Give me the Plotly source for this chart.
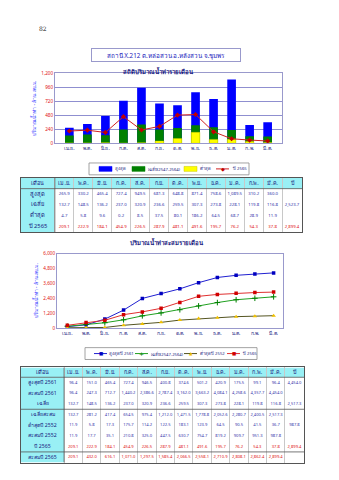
import plotly.graph_objects as go

# ---------------- data ----------------
months = ["เม.ย.", "พ.ค.", "มิ.ย.", "ก.ค.", "ส.ค.", "ก.ย.", "ต.ค.", "พ.ย.", "ธ.ค.", "ม.ค.", "ก.พ.", "มี.ค."]

max_month = [265.9, 330.2, 465.4, 727.4, 949.5, 681.3, 648.8, 871.4, 758.6, 1089.5, 310.2, 360.0]
avg_month = [132.7, 148.5, 136.2, 237.0, 320.9, 236.6, 259.5, 307.3, 273.8, 228.1, 119.8, 116.8]
min_month = [4.7, 5.8, 9.6, 0.2, 8.5, 37.5, 80.1, 186.2, 64.5, 68.7, 28.9, 11.9]
y2565_month = [209.1, 222.9, 184.1, 454.9, 226.5, 287.9, 481.1, 491.6, 195.7, 76.2, 54.3, 37.8]
avg_annual = 2523.7
y2565_annual = 2899.4

max2561_month = [96.4, 151.0, 465.4, 727.4, 946.5, 400.8, 374.6, 501.2, 420.9, 175.5, 99.1, 96.4]
max2561_cum = [96.4, 247.3, 712.7, 1440.2, 2386.6, 2787.4, 3162.0, 3663.2, 4084.1, 4258.6, 4357.7, 4454.0]
avg_cum = [132.7, 281.2, 417.4, 654.5, 975.4, 1212.0, 1471.5, 1778.8, 2052.6, 2280.7, 2400.5, 2517.3]
min2552_month = [11.9, 5.8, 17.3, 175.7, 114.2, 122.5, 183.1, 123.9, 64.5, 90.5, 41.5, 36.7]
min2552_cum = [11.9, 17.7, 35.1, 210.8, 325.0, 447.5, 630.7, 754.7, 819.2, 909.7, 951.3, 987.8]
y2565_cum = [209.1, 432.0, 616.1, 1071.0, 1297.5, 1585.4, 2066.5, 2558.1, 2710.9, 2808.1, 2862.4, 2899.4]
max2561_annual = 4454.0
min2552_annual = 987.8

t1_labels = ["สูงสุด", "เฉลี่ย", "ต่ำสุด", "ปี 2565"]
t2_labels = ["สูงสุดปี 2561", "สะสมปี 2561", "เฉลี่ย", "เฉลี่ยสะสม",
             "ต่ำสุดปี 2552", "สะสมปี 2552", "ปี 2565", "สะสมปี 2565"]
header_first = "เดือน"
header_last = "ปี"

legend1_names = ["สูงสุด", "เฉลี่ย(2547-2564)", "ต่ำสุด", "ปี 2565"]
legend2_names = ["สูงสุดปี 2561", "เฉลี่ย(2547-2564)", "ต่ำสุดปี 2552", "ปี 2565"]

# ---------------- helpers ----------------
W, H = 339, 480
def fx(px): return px / W
def fy(py): return 1 - py / H

FONT = "Noto Sans, DejaVu Sans, sans-serif"
SYMFONT = "DejaVu Sans"
NAVY = "#1a1a80"
BLUE_TXT = "#3333aa"
RED_TXT = "#e01010"
CYAN = "#99f0f5"
FRAME = "#9999cc"
GRID_IN = "#c8c8c8"
BORDER = "#555555"

def fmt(v):
    return "" if v is None else f"{v:,.1f}"

fig = go.Figure()
shapes = []
annotations = []
layout_axes = {}

# ---------------- chart 1: monthly bars ----------------
C_MAX, C_AVG, C_MIN, C_Y65 = "#0000ff", "#008000", "#ffff00", "#d02020"
fig.add_trace(go.Bar(x=months, y=max_month, name=legend1_names[0], marker_color=C_MAX,
                     marker_line_width=0, width=0.48, xaxis="x", yaxis="y"))
fig.add_trace(go.Bar(x=months, y=avg_month, name=legend1_names[1], marker_color=C_AVG,
                     marker_line_width=0, width=0.48, xaxis="x", yaxis="y"))
fig.add_trace(go.Bar(x=months, y=min_month, name=legend1_names[2], marker_color=C_MIN,
                     marker_line=dict(width=0.4, color="#c8c800"), width=0.48,
                     xaxis="x", yaxis="y"))
fig.add_trace(go.Scatter(x=months, y=y2565_month, name=legend1_names[3], mode="lines+markers",
                         line=dict(color=C_Y65, width=1),
                         marker=dict(symbol="diamond", size=4, color="#c00000"),
                         xaxis="x", yaxis="y"))

# ---------------- chart 2: cumulative lines ----------------
L_MAX, L_AVG, L_MIN, L_Y65 = "#2020d0", "#20a020", "#555522", "#e03030"
fig.add_trace(go.Scatter(x=months, y=max2561_cum, name=legend2_names[0], mode="lines+markers",
                         line=dict(color=L_MAX, width=1),
                         marker=dict(symbol="square", size=3.5, color="#0000c0"),
                         xaxis="x2", yaxis="y2"))
fig.add_trace(go.Scatter(x=months, y=avg_cum, name=legend2_names[1], mode="lines+markers",
                         line=dict(color=L_AVG, width=1),
                         marker=dict(symbol="cross-thin", size=4, color="#008000",
                                     line=dict(width=1, color="#008000")),
                         xaxis="x2", yaxis="y2"))
fig.add_trace(go.Scatter(x=months, y=min2552_cum, name=legend2_names[2], mode="lines+markers",
                         line=dict(color=L_MIN, width=1),
                         marker=dict(symbol="triangle-up", size=4, color="#f0c000"),
                         xaxis="x2", yaxis="y2"))
fig.add_trace(go.Scatter(x=months, y=y2565_cum, name=legend2_names[3], mode="lines+markers",
                         line=dict(color=L_Y65, width=1),
                         marker=dict(symbol="square", size=3.5, color="#d00000"),
                         xaxis="x2", yaxis="y2"))

# ---------------- tables on their own hidden axes ----------------
def add_table(n, x0, x1, top, header_h, row_h, colw, cols, fcolors, fsizes, group_after):
    xa, ya = f"x{n}", f"y{n}"
    nrows = len(cols[0])
    total_h = header_h + row_h * nrows
    total_w = sum(colw)
    bounds = [0]
    for w in colw:
        bounds.append(bounds[-1] + w)
    centers = [(bounds[i] + bounds[i + 1]) / 2 for i in range(len(colw))]
    row_c = [header_h + row_h * (r + 0.5) for r in range(nrows)]

    layout_axes[f"xaxis{n}"] = dict(domain=[fx(x0), fx(x1)], anchor=ya, range=[0, total_w],
                                    showticklabels=False, ticks="", zeroline=False,
                                    tickvals=bounds[1:-1], showgrid=True, gridcolor=GRID_IN,
                                    gridwidth=0.6, showline=True, mirror=True,
                                    linecolor=BORDER, linewidth=1, fixedrange=True)
    layout_axes[f"yaxis{n}"] = dict(domain=[fy(top + total_h), fy(top)], anchor=xa,
                                    range=[total_h, 0], showticklabels=False, ticks="",
                                    zeroline=False, showgrid=False, showline=True, mirror=True,
                                    linecolor=BORDER, linewidth=1, fixedrange=True)
    shapes.append(dict(type="rect", xref=xa, yref=ya, x0=0, x1=total_w, y0=0, y1=header_h,
                       fillcolor=CYAN, line_width=0, layer="below"))
    shapes.append(dict(type="rect", xref=xa, yref=ya, x0=0, x1=bounds[1], y0=header_h, y1=total_h,
                       fillcolor=CYAN, line_width=0, layer="below"))
    for yv in [header_h] + [header_h + row_h * g for g in group_after]:
        shapes.append(dict(type="line", xref=xa, yref=ya, x0=0, x1=total_w, y0=yv, y1=yv,
                           line=dict(color=BORDER, width=0.8)))
    shapes.append(dict(type="line", xref=xa, yref=ya, x0=bounds[1], x1=bounds[1], y0=0, y1=total_h,
                       line=dict(color=BORDER, width=0.7)))

    hdr = [header_first] + months + [header_last]
    fig.add_trace(go.Scatter(x=centers, y=[header_h / 2] * len(hdr), text=hdr, mode="text",
                             textposition="middle center", hoverinfo="skip",
                             textfont=dict(family=FONT, size=5.4, color=NAVY),
                             xaxis=xa, yaxis=ya))
    xs, ys, ts, cs, ss = [], [], [], [], []
    for c, col in enumerate(cols):
        for r, val in enumerate(col):
            xs.append(centers[c]); ys.append(row_c[r]); ts.append(val)
            cs.append(fcolors[c][r]); ss.append(fsizes[c])
    fig.add_trace(go.Scatter(x=xs, y=ys, text=ts, mode="text", textposition="middle center",
                             hoverinfo="skip",
                             textfont=dict(family=FONT, size=ss, color=cs),
                             xaxis=xa, yaxis=ya))

# table 1
t1_cols = [t1_labels]
for i in range(12):
    t1_cols.append([fmt(max_month[i]), fmt(avg_month[i]), fmt(min_month[i]), fmt(y2565_month[i])])
t1_cols.append(["", fmt(avg_annual), "", fmt(y2565_annual)])
t1_fc = [[NAVY] * 4] + [[BLUE_TXT, BLUE_TXT, BLUE_TXT, RED_TXT]] * 13
t1_size = [5.8] + [4.3] * 13
add_table(3, 21, 302, 177, 11, 11, [34] + [19] * 12 + [20], t1_cols, t1_fc, t1_size, [])

# table 2
t2_cols = [t2_labels]
for i in range(12):
    t2_cols.append([fmt(max2561_month[i]), fmt(max2561_cum[i]), fmt(avg_month[i]), fmt(avg_cum[i]),
                    fmt(min2552_month[i]), fmt(min2552_cum[i]), fmt(y2565_month[i]), fmt(y2565_cum[i])])
t2_cols.append([fmt(max2561_annual), "", fmt(avg_cum[-1]), "", fmt(min2552_annual), "", fmt(y2565_annual), ""])
row_colors = [BLUE_TXT] * 6 + [RED_TXT] * 2
t2_fc = [[NAVY] * 8] + [row_colors] * 13
t2_size = [5.2] + [4.1] * 13
add_table(4, 21, 304, 369, 10, 10.8, [43] + [18.4] * 12 + [19], t2_cols, t2_fc, t2_size, [3, 7])

# ---------------- custom legends (page pixel layout) ----------------
LFONT = 4.2

def legend_box(x0, x1, y0, y1):
    shapes.append(dict(type="rect", xref="paper", yref="paper",
                       x0=fx(x0), x1=fx(x1), y0=fy(y1), y1=fy(y0),
                       line=dict(color="#8c8c8c", width=0.8), fillcolor="white", layer="above"))

def legend_text(x, yc, text):
    annotations.append(dict(text=text, x=fx(x), y=fy(yc), xref="paper", yref="paper",
                            xanchor="left", yanchor="middle", showarrow=False,
                            font=dict(family=FONT, size=LFONT, color=NAVY)))

def legend_swatch(x, yc, color, label, w=13, h=5, outline=None):
    shapes.append(dict(type="rect", xref="paper", yref="paper",
                       x0=fx(x), x1=fx(x + w), y0=fy(yc + h / 2), y1=fy(yc - h / 2),
                       fillcolor=color, line=dict(color=outline or color, width=0.5), layer="above"))
    legend_text(x + w + 0.5, yc, label)

def legend_line(x, yc, color, symbol, mcolor, label, w=13, msize=5):
    shapes.append(dict(type="line", xref="paper", yref="paper",
                       x0=fx(x), x1=fx(x + w), y0=fy(yc), y1=fy(yc),
                       line=dict(color=color, width=1), layer="above"))
    annotations.append(dict(text=symbol, x=fx(x + w / 2), y=fy(yc), xref="paper", yref="paper",
                            xanchor="center", yanchor="middle", showarrow=False,
                            font=dict(family=SYMFONT, size=msize, color=mcolor)))
    legend_text(x + w + 0.5, yc, label)

# legend 1
legend_box(89, 249, 162, 174)
ly1 = 168
legend_swatch(99, ly1, C_MAX, legend1_names[0])
legend_swatch(132, ly1, C_AVG, legend1_names[1])
legend_swatch(184, ly1, C_MIN, legend1_names[2], outline="#c8c800")
legend_line(216, ly1, C_Y65, "◆", "#c00000", legend1_names[3])

# legend 2
legend_box(85, 257, 349, 361)
ly2 = 355
legend_line(94, ly2, L_MAX, "■", "#0000c0", legend2_names[0], msize=4.5)
legend_line(135, ly2, L_AVG, "+", "#008000", legend2_names[1], msize=6)
legend_line(184, ly2, L_MIN, "▲", "#f0c000", legend2_names[2], msize=4.5)
legend_line(227, ly2, L_Y65, "■", "#d00000", legend2_names[3], msize=4.5)

# ---------------- titles ----------------
annotations += [
    dict(text="82", x=fx(37), y=fy(20), xref="paper", yref="paper", showarrow=False,
         font=dict(family="DejaVu Serif, serif", size=6, color="#222222")),
    dict(text="สถานี X.212 ต.หล่อสวน อ.หลังสวน จ.ชุมพร", x=fx(166), y=fy(46),
         xref="paper", yref="paper", showarrow=False, width=146, height=10,
         bordercolor=FRAME, borderwidth=1, borderpad=1,
         font=dict(family=FONT, size=6.3, color="#2222bb")),
    dict(text="<b>สถิติปริมาณน้ำท่ารายเดือน</b>", x=fx(158), y=fy(62),
         xref="paper", yref="paper", showarrow=False,
         font=dict(family=FONT, size=6, color=NAVY)),
    dict(text="<b>ปริมาณน้ำท่าสะสมรายเดือน</b>", x=fx(167), y=fy(242),
         xref="paper", yref="paper", showarrow=False,
         font=dict(family=FONT, size=6, color=NAVY)),
]

# ---------------- layout ----------------
tickfont = dict(family=FONT, size=4.6, color=RED_TXT)
xtickfont = dict(family=FONT, size=5, color=NAVY)

fig.update_layout(
    width=W, height=H, margin=dict(l=0, r=0, t=0, b=0),
    paper_bgcolor="white", plot_bgcolor="rgba(0,0,0,0)",
    barmode="overlay", showlegend=False,
    font=dict(family=FONT, size=5.5, color=NAVY),
    xaxis=dict(domain=[fx(55), fx(282)], anchor="y", type="category",
               showline=True, mirror=True, linecolor=FRAME, linewidth=1,
               ticks="", tickfont=xtickfont, showgrid=False),
    yaxis=dict(domain=[fy(142), fy(71)], anchor="x", range=[0, 1200],
               tickvals=[0, 240, 480, 720, 960, 1200], tickformat=",",
               showline=True, mirror=True, linecolor=FRAME, linewidth=1,
               showgrid=True, gridcolor="#8f8fd0", gridwidth=0.6,
               tickfont=tickfont, ticks="", zeroline=False,
               title=dict(text="ปริมาณน้ำท่า - ล้าน ลบ.ม.", standoff=4,
                          font=dict(family=FONT, size=5, color="#3333ff"))),
    xaxis2=dict(domain=[fx(57), fx(283)], anchor="y2", type="category",
                showline=True, mirror=True, linecolor=FRAME, linewidth=1,
                ticks="", tickfont=xtickfont, showgrid=False, range=[-0.55, 11.5]),
    yaxis2=dict(domain=[fy(329), fy(254)], anchor="x2", range=[0, 6000],
                tickvals=[0, 1200, 2400, 3600, 4800, 6000], tickformat=",",
                showline=True, mirror=True, linecolor=FRAME, linewidth=1,
                showgrid=False, tickfont=tickfont, ticks="", zeroline=False,
                title=dict(text="ปริมาณน้ำท่า - ล้าน ลบ.ม.", standoff=4,
                           font=dict(family=FONT, size=5, color="#3333ff"))),
    shapes=shapes,
    annotations=annotations,
    **layout_axes,
)

fig.write_html("out.html")
